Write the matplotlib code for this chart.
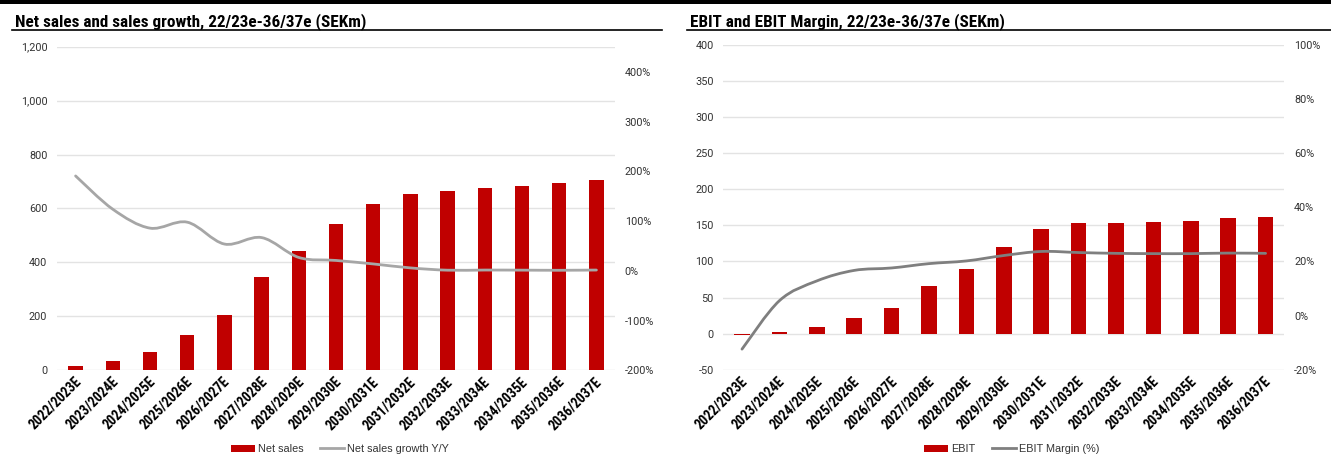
import matplotlib
matplotlib.use("Agg")
import matplotlib.pyplot as plt
import numpy as np
from matplotlib.path import Path
from matplotlib.patches import PathPatch, Rectangle, Patch
from matplotlib.lines import Line2D
import matplotlib.transforms as mtransforms
from matplotlib.ticker import FuncFormatter, MultipleLocator

# ---------------- data ----------------
years = ["2022/2023E", "2023/2024E", "2024/2025E", "2025/2026E", "2026/2027E",
         "2027/2028E", "2028/2029E", "2029/2030E", "2030/2031E", "2031/2032E",
         "2032/2033E", "2033/2034E", "2034/2035E", "2035/2036E", "2036/2037E"]
net_sales = [16, 36, 67, 132, 204, 346, 442, 541, 617, 655, 664, 675, 685, 693, 705]
sales_growth = [191, 124, 86, 98, 54, 67, 27, 21, 14, 6, 1.4, 1.7, 1.5, 1.2, 1.7]
ebit = [-2, 2, 9, 22, 36, 66.5, 89, 119.6, 145.5, 152.8, 153, 154.7, 156.6, 159.8, 162]
ebit_margin = [-12.4, 5.5, 12.8, 16.7, 17.6, 19.2, 20.2, 22.2, 23.7, 23.3, 23.0, 22.9, 22.9, 23.1, 23.0]

title_left = "Net sales and sales growth, 22/23e-36/37e (SEKm)"
title_right = "EBIT and EBIT Margin, 22/23e-36/37e (SEKm)"

BAR = "#C00000"
GRID = "#E3E3E3"
TXT = "#333333"
COND = ["Liberation Sans Narrow", "Roboto Condensed", "DejaVu Sans"]
TICKF = ["Roboto", "DejaVu Sans"]
LEGF = ["Liberation Sans", "DejaVu Sans"]

W, H = 1331, 455
fig = plt.figure(figsize=(W / 100, H / 100), dpi=100)


def fx(px):
    return px / W


def fy(py):
    return 1 - py / H


def smooth_line(ax, xs, ys, color, lw, zorder=5):
    xs = np.asarray(xs, float)
    ys = np.asarray(ys, float)
    n = len(xs)
    verts = [(xs[0], ys[0])]
    codes = [Path.MOVETO]
    for i in range(n - 1):
        p0 = np.array([xs[max(i - 1, 0)], ys[max(i - 1, 0)]])
        p1 = np.array([xs[i], ys[i]])
        p2 = np.array([xs[i + 1], ys[i + 1]])
        p3 = np.array([xs[min(i + 2, n - 1)], ys[min(i + 2, n - 1)]])
        c1 = p1 + (p2 - p0) / 6.0
        c2 = p2 - (p3 - p1) / 6.0
        verts += [tuple(c1), tuple(c2), tuple(p2)]
        codes += [Path.CURVE4] * 3
    patch = PathPatch(Path(verts, codes), facecolor="none", edgecolor=color,
                      lw=lw, zorder=zorder, capstyle="round", joinstyle="round")
    ax.add_patch(patch)


def setup(ax, ax2, x_px0, x_px1, y_top, y_bot, ylim, ystep, ylim2, ystep2, fmt1, fmt2,
          bars, line, lcolor, bar_w, leg_labels, leg_x):
    ax.set_position([fx(x_px0), fy(y_bot), fx(x_px1 - x_px0), (y_bot - y_top) / H])
    x = np.arange(len(years))
    ax.bar(x, bars, width=bar_w, color=BAR, zorder=3)
    ax.set_xlim(-0.5, len(years) - 0.5)
    ax.set_ylim(*ylim)
    ax.yaxis.set_major_locator(MultipleLocator(ystep))
    ax.yaxis.set_major_formatter(FuncFormatter(fmt1))
    ax.grid(axis="y", color=GRID, lw=1.0, zorder=0)
    ax.set_axisbelow(True)
    for s in ax.spines.values():
        s.set_visible(False)
    ax.tick_params(axis="y", length=0, pad=7, labelsize=7.8, labelcolor=TXT)
    ax.tick_params(axis="x", length=0, pad=3)
    for lab in ax.get_yticklabels():
        lab.set_fontfamily(TICKF)
    ax.set_xticks(x)
    ax.set_xticklabels(years, rotation=45, ha="right", rotation_mode="anchor",
                       fontsize=10, fontweight="bold", family=COND, color="black")
    off = mtransforms.ScaledTranslation(-2 / 100, 0, fig.dpi_scale_trans)
    for lab in ax.get_xticklabels():
        lab.set_transform(lab.get_transform() + off)

    ax2.set_ylim(*ylim2)
    ax2.yaxis.set_major_locator(MultipleLocator(ystep2))
    ax2.yaxis.set_major_formatter(FuncFormatter(fmt2))
    for s in ax2.spines.values():
        s.set_visible(False)
    ax2.tick_params(axis="y", length=0, pad=7, labelsize=7.8, labelcolor=TXT)
    for lab in ax2.get_yticklabels():
        lab.set_fontfamily(TICKF)
    smooth_line(ax2, x, line, lcolor, 2.0)

    handles = [Patch(facecolor=BAR, edgecolor="none"),
               Line2D([0], [0], color=lcolor, lw=2.0)]
    leg = fig.legend(handles, leg_labels, loc="center",
                     bbox_to_anchor=(fx(leg_x), fy(449)), bbox_transform=fig.transFigure,
                     ncol=2, frameon=False, prop={"family": LEGF, "size": 7.8},
                     handlelength=2.2, handleheight=0.6, handletextpad=0.3,
                     columnspacing=1.5, borderaxespad=0, borderpad=0)
    for t in leg.get_texts():
        t.set_color(TXT)
    return leg


# ---- left chart ----
axL = fig.add_axes([0.1, 0.1, 0.3, 0.3])
axL2 = axL.twinx()
setup(axL, axL2, 57, 615, 46.7, 370.3, (0, 1200), 200, (-200, 451), 100,
      lambda v, p: f"{v:,.0f}", lambda v, p: f"{v:.0f}%" if v <= 400 else "",
      net_sales, sales_growth, "#A6A6A6", 0.39, ["Net sales", "Net sales growth Y/Y"], 340)
axL2.set_yticks([-200, -100, 0, 100, 200, 300, 400])

# ---- right chart ----
axR = fig.add_axes([0.6, 0.1, 0.3, 0.3])
axR2 = axR.twinx()
setup(axR, axR2, 723.3, 1284.3, 45, 369.7, (-50, 400), 50, (-20, 100), 20,
      lambda v, p: f"{v:,.0f}", lambda v, p: f"{v:.0f}%",
      ebit, ebit_margin, "#7F7F7F", 0.42, ["EBIT", "EBIT Margin (%)"], 1012)

# ---- decorations ----
fig.add_artist(Rectangle((0, fy(4)), 1, 4 / H, transform=fig.transFigure,
                         facecolor="black", edgecolor="none"))
fig.text(fx(15), fy(26), title_left, fontsize=12.3, fontweight="bold", family=COND,
         ha="left", va="baseline", color="black")
fig.text(fx(690), fy(26), title_right, fontsize=12.3, fontweight="bold", family=COND,
         ha="left", va="baseline", color="black")
fig.add_artist(Line2D([fx(12), fx(662)], [fy(29.5), fy(29.5)], transform=fig.transFigure,
                      color="black", lw=1.2))
fig.add_artist(Line2D([fx(687), fx(1331)], [fy(29.5), fy(29.5)], transform=fig.transFigure,
                      color="black", lw=1.2))

fig.savefig("out.png", dpi=100)
